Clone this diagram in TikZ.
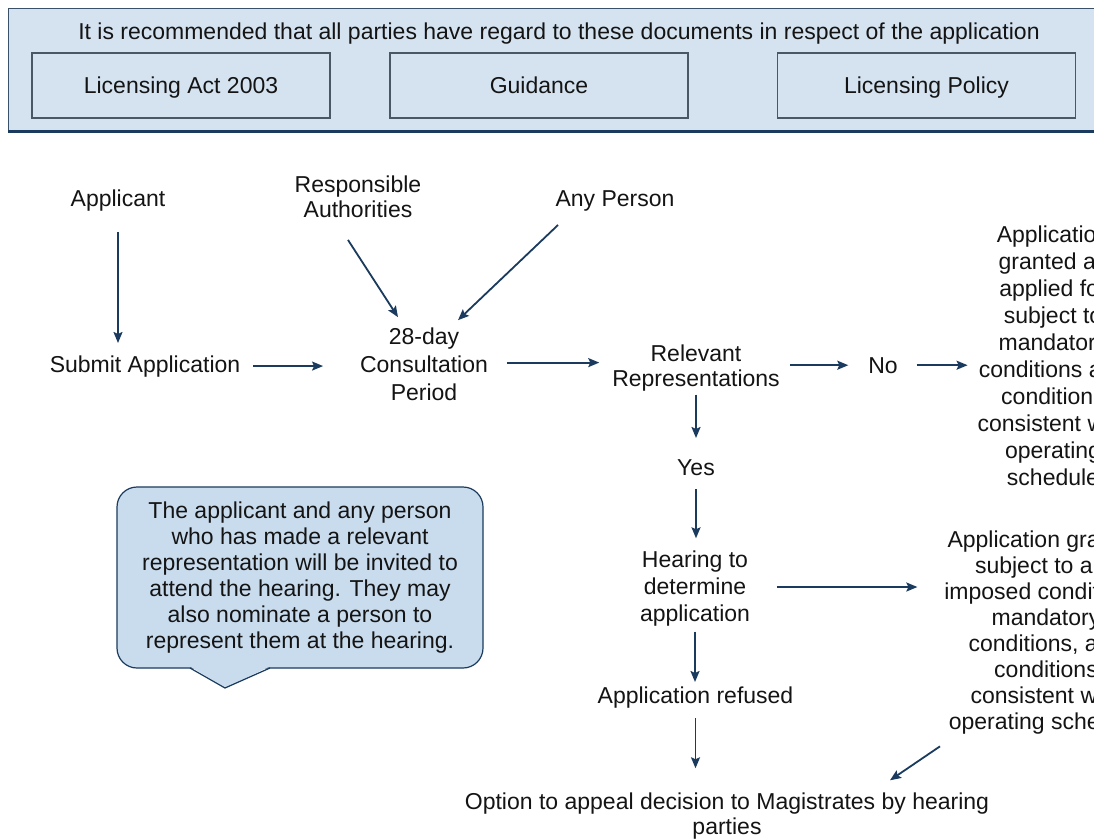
\documentclass[tikz,border=0pt]{standalone}
\usepackage{fontspec}
\setmainfont{Liberation Sans}
\usetikzlibrary{arrows.meta,calc}
\definecolor{navy}{HTML}{1B3B5E}
\definecolor{bannerfill}{HTML}{D5E3F1}
\definecolor{bannerline}{HTML}{3A5068}
\definecolor{notefill}{HTML}{C9DCEE}
\definecolor{boxline}{HTML}{4A5866}
\definecolor{ink}{HTML}{141414}
\begin{document}
\begin{tikzpicture}[x=1pt,y=-1pt,
  every node/.style={inner sep=0pt, outer sep=0pt, text=ink, font=\fontsize{23}{25}\selectfont},
  txt/.style={align=center},
  docbox/.style={draw=boxline, fill=bannerfill, line width=1.2pt, minimum width=298pt, minimum height=65pt, text height=16.5pt, text depth=0pt},
  note/.style={draw=navy, fill=notefill, line width=1.2pt, rounded corners=20pt, minimum width=366pt, minimum height=181pt, align=center, font=\fontsize{23}{26}\selectfont},
  arr/.style={draw=navy, line width=1.8pt, -{Stealth[length=11pt,width=9pt,inset=2pt]}}]
\clip (0,0) rectangle (1094,839);
\useasboundingbox (0,0) rectangle (1094,839);
\fill[white] (0,0) rectangle (1094,839);
% banner
\draw[draw=bannerline, fill=bannerfill, line width=1pt] (8,8) rectangle (1110,131);
\draw[navy, line width=3pt] (8,131) -- (1110,131);
\node[anchor=base] (bantext) at (559,39) {It is recommended that all parties have regard to these documents in respect of the application};
\node[docbox] (act) at (181,85.5) {Licensing Act 2003};
\node[docbox] (guid) at (539,85.5) {Guidance};
\node[docbox] (policy) at (926.5,85.5) {Licensing Policy};
% nodes
\node[anchor=base] (applicant) at (118,206) {Applicant};
\node[txt] (resp) at (358,197) {Responsible\\Authorities};
\node[anchor=base] (anyp) at (615,206) {Any Person};
\node[anchor=base] (submit) at (145,372) {Submit Application};
\node[txt, font=\fontsize{23}{28}\selectfont] (cons) at (424,364.6) {28-day\\Consultation\\Period};
\node[txt] (rel) at (696,368.5) {Relevant\\Representations};
\node[anchor=base] (no) at (883,373) {No};
\node[txt, font=\fontsize{23}{27}\selectfont] (right1) at (1053,355.5) {Application\\granted as\\applied for\\subject to\\mandatory\\conditions and\\conditions\\consistent with\\operating\\schedule};
\node[anchor=base] (yes) at (696,475) {Yes};
\node[txt, font=\fontsize{23}{27}\selectfont] (hearing) at (695,589) {Hearing to\\determine\\application};
\node[txt, font=\fontsize{23}{26}\selectfont] (right2) at (1046,632.6) {Application granted\\subject to any\\imposed conditions,\\mandatory\\conditions, and\\conditions\\consistent with\\operating schedule};
\node[anchor=base] (refused) at (695.5,703) {Application refused};
\node[txt] (option) at (727,816.5) {Option to appeal decision to Magistrates by hearing\\parties};
% callout
\node[note] (note) at (300,577.5) {\raisebox{0pt}[16.5pt][0pt]{}The applicant and any person\\who has made a relevant\\representation will be invited to\\attend the hearing. They may\\also nominate a person to\\represent them at the hearing.};
\fill[notefill] ([xshift=-110pt,yshift=1.6pt]note.south) -- ([xshift=-75pt,yshift=-20pt]note.south) -- ([xshift=-30pt,yshift=1.6pt]note.south) -- cycle;
\draw[navy, line width=1.2pt, line join=round] ([xshift=-110pt]note.south) -- ([xshift=-75pt,yshift=-20pt]note.south) -- ([xshift=-30pt]note.south);
% connectors
\draw[arr] ([yshift=-26pt]applicant.base) -- ([yshift=29pt]applicant.base |- submit.base);
\draw[arr] ([xshift=-10pt,yshift=-22pt]resp.south) -- ([xshift=-26pt,yshift=11pt]cons.north);
\draw[arr] ([xshift=-57pt,yshift=-19pt]anyp.base) -- ([xshift=34pt,yshift=8pt]cons.north);
\draw[arr] ([xshift=13pt]submit.east) -- ([xshift=-37pt]submit.east -| cons.west);
\draw[arr] ([xshift=19pt,yshift=2pt]cons.east) -- ([xshift=-13pt,yshift=2pt]cons.east -| rel.west);
\draw[arr] ([xshift=10pt]rel.east |- no.west) -- ([xshift=-20pt]no.west);
\draw[arr] ([xshift=19pt]no.east) -- ([xshift=-10pt]no.east -| right1.west);
\draw[arr] ([yshift=-3pt]rel.south) -- ([yshift=37pt]rel.south |- yes.base);
\draw[arr] ([yshift=-14pt]yes.base) -- ([yshift=13pt]yes.base |- hearing.north);
\draw[arr] ([xshift=27pt,yshift=2pt]hearing.east) -- ([xshift=-27pt,yshift=2pt]hearing.east -| right2.west);
\draw[arr] ([yshift=-5pt]hearing.south) -- ([yshift=21pt]hearing.south |- refused.base);
\draw[arr] ([yshift=-15pt]refused.base) -- ([yshift=25pt]refused.base |- option.north);
\draw[arr] ([xshift=-106pt,yshift=-12pt]right2.south) -- ([xshift=163pt,yshift=13pt]option.north);
\end{tikzpicture}
\end{document}
